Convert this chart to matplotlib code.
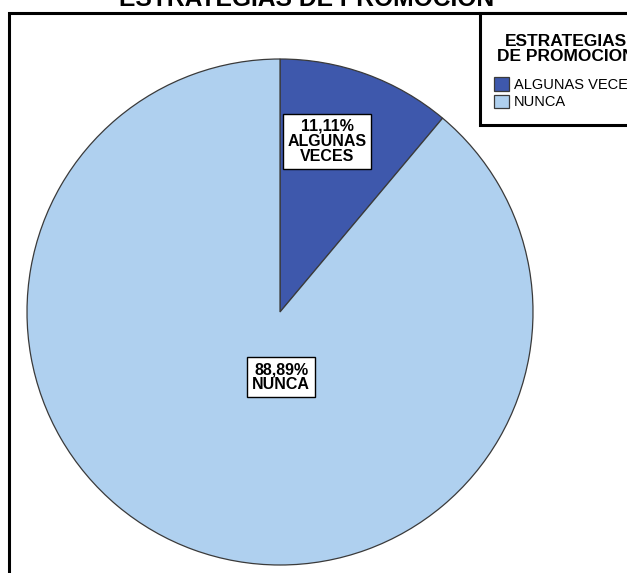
import matplotlib.pyplot as plt
import numpy as np
from matplotlib.patches import Rectangle

plt.rcParams["font.family"] = ["Liberation Sans", "DejaVu Sans"]

title = "ESTRATEGIAS DE PROMOCION"
legend_title = "ESTRATEGIAS\nDE PROMOCION"
categories = ["ALGUNAS VECES", "NUNCA"]
percentages = [11.11, 88.89]
slice_colors = ["#3E58AC", "#AFD0EF"]
# label placement in the pie: (radius, angle in degrees)
label_spots = [(0.70, 74.6), (0.257, -89.0)]

W, H = 627, 573
fig = plt.figure(figsize=(W / 100, H / 100), dpi=100)


def px(x, y):
    """Pixel position from the top-left corner -> figure fraction."""
    return x / W, 1 - y / H


# pie centred at (280, 312) px from top-left, radius 253 px
cx, cy, r = 280, 312, 253
ax = fig.add_axes([(cx - r) / W, (H - cy - r) / H, 2 * r / W, 2 * r / H])
wedges, _ = ax.pie(
    percentages,
    colors=slice_colors,
    startangle=90,
    counterclock=False,
    radius=1.0,
    wedgeprops=dict(edgecolor="#3a3a3a", linewidth=0.9),
)
ax.set_xlim(-1, 1)
ax.set_ylim(-1, 1)
ax.set_aspect("equal")
ax.axis("off")

for (dist, ang), pct, name in zip(label_spots, percentages, categories):
    txt = f"{pct:.2f}".replace(".", ",") + "%\n" + name.replace(" ", "\n")
    ax.text(
        dist * np.cos(np.radians(ang)),
        dist * np.sin(np.radians(ang)),
        txt,
        ha="center",
        va="center",
        fontsize=11.5,
        fontweight="bold",
        linespacing=1.0,
        bbox=dict(boxstyle="square,pad=0.3", facecolor="white", edgecolor="black", linewidth=1.0),
    )

# outer frame running off the right and bottom edges
fig.patches.append(
    Rectangle((9 / W, -0.1), 1.2, 1 - 13 / H + 0.1, transform=fig.transFigure,
              fill=False, edgecolor="black", linewidth=2.2)
)

# legend frame, also running off the right edge
x0, y0 = px(480, 125)
_, y1 = px(480, 13)
fig.patches.append(
    Rectangle((x0, y0), 0.5, y1 - y0, transform=fig.transFigure,
              facecolor="white", edgecolor="black", linewidth=2.2, zorder=3)
)

fig.text(*px(306.5, 6), title, ha="center", va="baseline",
         fontsize=17.7, fontweight="bold")

leg = fig.legend(
    wedges,
    categories,
    title=legend_title,
    loc="upper left",
    bbox_to_anchor=px(494, 34),
    frameon=False,
    fontsize=10.5,
    title_fontproperties=dict(weight="bold", size=12.5),
    handlelength=1.05,
    handleheight=1.03,
    handletextpad=0.3,
    labelspacing=0.2,
    borderpad=0,
    borderaxespad=0,
)
leg.set_zorder(4)
leg.get_title().set_linespacing(1.0)
leg.get_title().set_multialignment("center")
leg._legend_box.sep = 9.5

fig.savefig("out.png", dpi=100)
